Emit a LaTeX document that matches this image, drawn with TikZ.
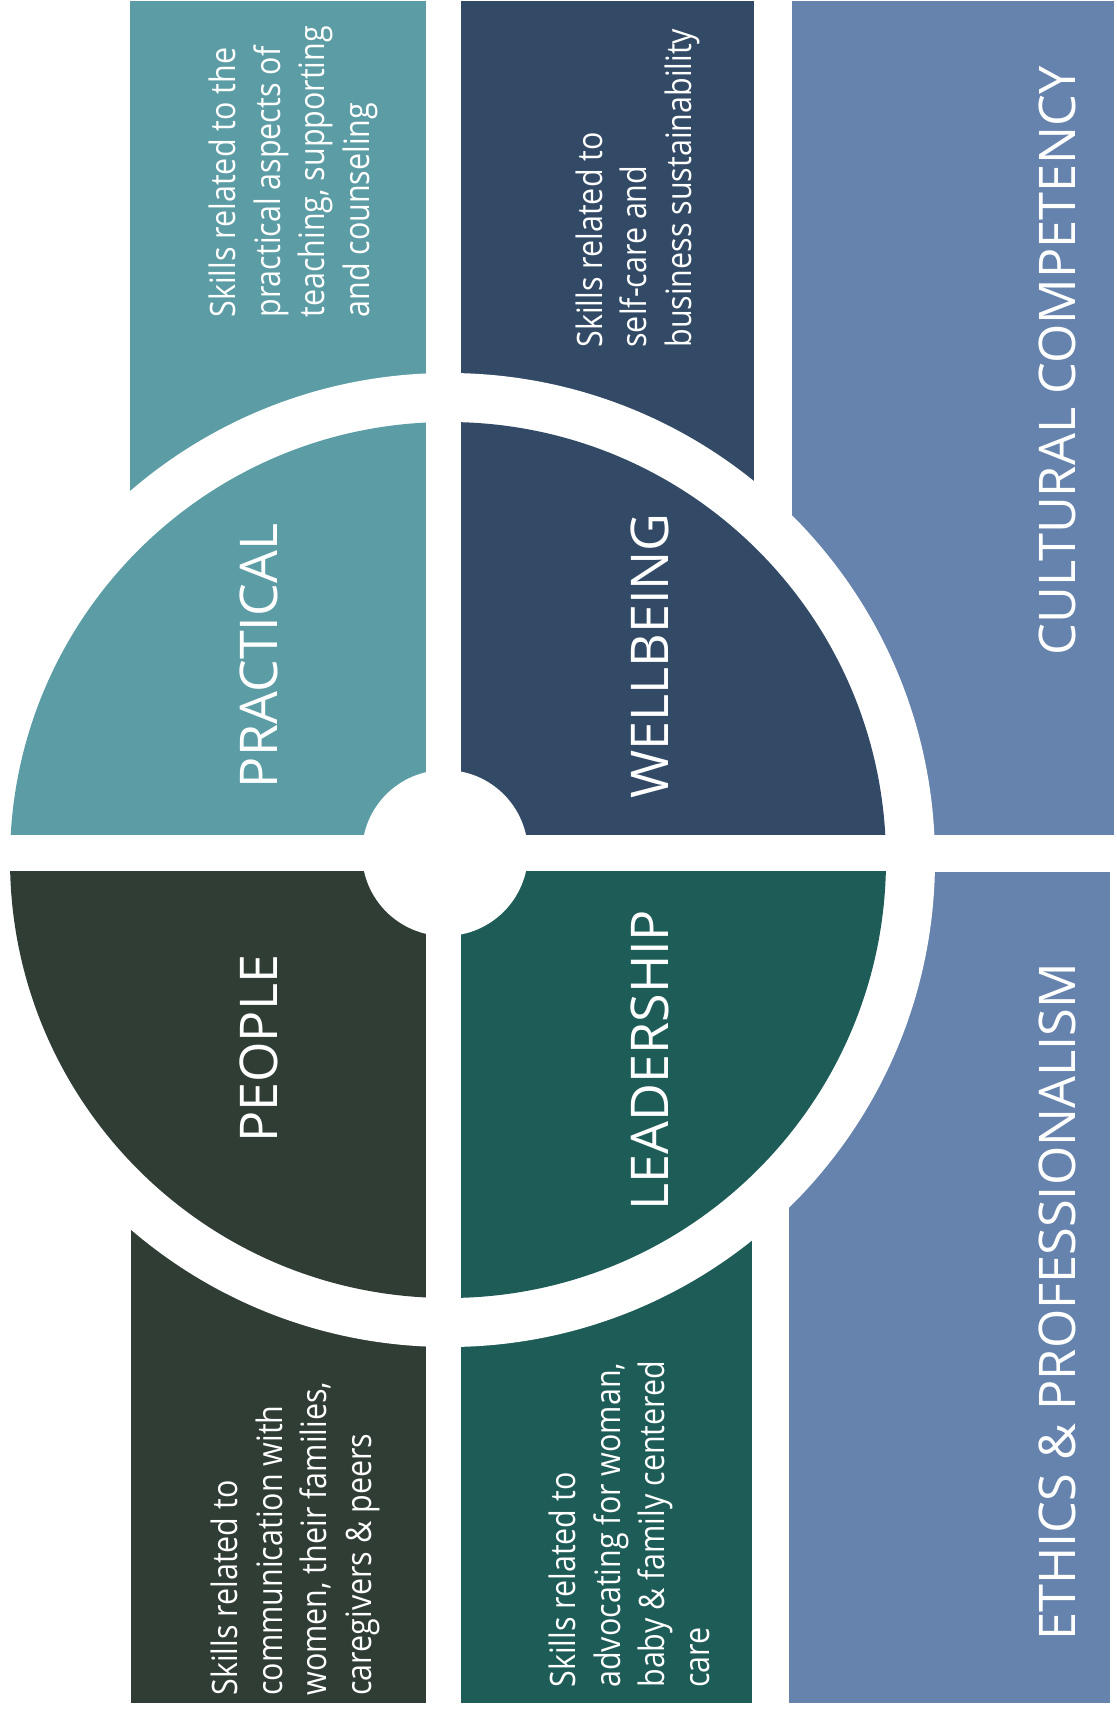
\documentclass[tikz,border=0pt]{standalone}
\usepackage{fontspec}
\setmainfont{Open Sans}
\newfontfamily\descfont{Open Sans}[FakeStretch=0.87]
\definecolor{cPrac}{HTML}{5C9DA5}
\definecolor{cWell}{HTML}{324A66}
\definecolor{cPeop}{HTML}{2F3D35}
\definecolor{cLead}{HTML}{1E5C58}
\definecolor{cBand}{HTML}{6583AD}
\begin{document}
\begin{tikzpicture}[x=0.5pt,y=-0.5pt,
  desc/.style={rotate=90, anchor=base west, inner sep=0pt, align=left, text=white,
    font=\descfont\fontsize{17.5}{22.2}\selectfont},
  quad/.style={rotate=90, anchor=base, inner sep=0pt, text=white,
    font=\fontsize{26}{30}\selectfont},
  band/.style={rotate=90, anchor=base west, inner sep=0pt, text=white,
    font=\fontsize{25.25}{30}\selectfont}]
\fill[white] (0,0) rectangle (1117,1713);
\useasboundingbox (0,0) rectangle (1117,1713);
% outer rectangles
\fill[cPrac] (130,1) rectangle (426,835);
\fill[cWell] (461,1) rectangle (754,835);
\fill[cBand] (792,1) rectangle (1114,835);
\fill[cPeop] (131,871) rectangle (426,1703);
\fill[cLead] (461,871) rectangle (752,1703);
\fill[cBand] (789,872) rectangle (1110,1703);
% white ring
\fill[white] (448,860) circle[radius=487];
% wedges
\begin{scope}\clip (0,0) rectangle (444,853); \fill[cPrac] (448,860) circle[radius=438]; \end{scope}
\begin{scope}\clip (444,0) rectangle (1117,853); \fill[cWell] (448,860) circle[radius=438]; \end{scope}
\begin{scope}\clip (0,853) rectangle (444,1713); \fill[cPeop] (448,860) circle[radius=438]; \end{scope}
\begin{scope}\clip (444,853) rectangle (1117,1713); \fill[cLead] (448,860) circle[radius=438]; \end{scope}
% white cross and centre
\fill[white] (426,0) rectangle (461,1713);
\fill[white] (0,835) rectangle (1117,871);
\fill[white] (445,853) circle[radius=83];
% quadrant labels
\node[quad] (practical) at (277,656) {PRACTICAL};
\node[quad] (wellbeing) at (668,656) {WELLBEING};
\node[quad] (people) at (277,1049) {PEOPLE};
\node[quad] (leadership) at (668,1060) {LEADERSHIP};
% band labels
\node[band] (cultural) at (1075,656) {CULTURAL COMPETENCY};
\node[band] (ethics) at (1075,1641) {ETHICS \& PROFESSIONALISM};
% descriptions (anchor = baseline of the last line)
\node[desc] (dprac) at (369,318) {Skills related to the\\practical aspects of\\teaching, supporting\\and counseling};
\node[desc] (dwell) at (691,348) {Skills related to\\self-care and\\business sustainability};
\node[desc] (dpeop) at (371,1696) {Skills related to\\communication with\\women, their families,\\caregivers \& peers};
\node[desc] (dlead) at (709,1688) {Skills related to\\advocating for woman,\\baby \& family centered\\care};
\end{tikzpicture}
\end{document}
